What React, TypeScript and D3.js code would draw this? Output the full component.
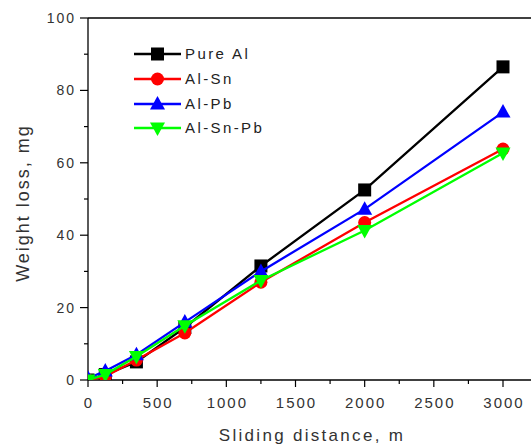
import React from "react";
import * as d3 from "d3";

const distances = [0, 125, 350, 700, 1250, 2000, 3000];
const pureAl = [0, 1.5, 5, 14.5, 31.5, 52.5, 86.5];
const alSn = [0, 1, 5.5, 13, 27, 43.5, 63.8];
const alPb = [0.5, 2.5, 7, 16, 30, 47.2, 74];
const alSnPb = [0, 1.5, 6.5, 15, 27.5, 41.3, 62.7];

const seriesNames = ["Pure Al", "Al-Sn", "Al-Pb", "Al-Sn-Pb"];
const seriesColors = ["#000000", "#ff0000", "#0000ff", "#00ff00"];
const seriesShapes = ["square", "circle", "triangle", "triangleDown"];
const seriesValues = [pureAl, alSn, alPb, alSnPb];

const xTicks = [0, 500, 1000, 1500, 2000, 2500, 3000];
const yTicks = [0, 20, 40, 60, 80, 100];

const W = 531;
const H = 446;
const left = 88;
const top = 18;
const bottom = 380;

function Marker({ shape, x, y, color }: { shape: string; x: number; y: number; color: string }) {
  if (shape === "square") return <rect x={x - 6.5} y={y - 6.5} width={13} height={13} fill={color} />;
  if (shape === "circle") return <circle cx={x} cy={y} r={6.5} fill={color} />;
  if (shape === "triangle")
    return <path d={`M${x},${y - 8}L${x + 7.5},${y + 5.5}L${x - 7.5},${y + 5.5}Z`} fill={color} />;
  return <path d={`M${x},${y + 8}L${x + 7.5},${y - 5.5}L${x - 7.5},${y - 5.5}Z`} fill={color} />;
}

export default function App() {
  const x = d3.scaleLinear().domain([0, 3000]).range([left, 503]);
  const y = d3.scaleLinear().domain([0, 100]).range([bottom, top]);
  const right = x(3250);
  const line = d3
    .line<[number, number]>()
    .x((d) => x(d[0]))
    .y((d) => y(d[1]));
  const font = "'Liberation Sans', Arial, sans-serif";
  const minorX = d3.range(250, 3250, 500);
  const minorY = d3.range(10, 100, 20);
  const legendY = [54, 79, 104, 128];

  return (
    <svg width={W} height={H} style={{ position: "absolute", left: 0, top: 0, background: "#fff" }}>
      <defs>
        <clipPath id="plot">
          <rect x={left} y={top} width={right - left} height={bottom - top} />
        </clipPath>
      </defs>
      {/* frame */}
      <line x1={left} x2={right} y1={top} y2={top} stroke="#000" strokeWidth={1.3} />
      <line x1={left} x2={right} y1={bottom} y2={bottom} stroke="#000" strokeWidth={1.3} />
      <line x1={left} x2={left} y1={top} y2={bottom} stroke="#000" strokeWidth={1.3} />
      {/* y ticks */}
      {yTicks.map((t) => (
        <g key={"y" + t}>
          <line x1={left - 8} x2={left} y1={y(t)} y2={y(t)} stroke="#000" strokeWidth={1.2} />
          <text x={left - 12} y={y(t)} dy="0.36em" textAnchor="end" fontSize={14} fontFamily={font} fill="#333" letterSpacing={2}>
            {t}
          </text>
        </g>
      ))}
      {minorY.map((t) => (
        <line key={"my" + t} x1={left - 4} x2={left} y1={y(t)} y2={y(t)} stroke="#000" strokeWidth={1.2} />
      ))}
      {/* x ticks */}
      {xTicks.map((t) => (
        <g key={"x" + t}>
          <line x1={x(t)} x2={x(t)} y1={bottom} y2={bottom + 7} stroke="#000" strokeWidth={1.2} />
          <text x={x(t) + 1} y={bottom + 28} textAnchor="middle" fontSize={15} fontFamily={font} fill="#333" letterSpacing={2}>
            {t}
          </text>
        </g>
      ))}
      {minorX.map((t) => (
        <line key={"mx" + t} x1={x(t)} x2={x(t)} y1={bottom} y2={bottom + 4} stroke="#000" strokeWidth={1.2} />
      ))}
      {/* axis titles */}
      <text x={312} y={441} textAnchor="middle" fontSize={17} fontFamily={font} fill="#333" letterSpacing={2.3}>
        Sliding distance, m
      </text>
      <text
        transform={`translate(29,203) rotate(-90)`}
        textAnchor="middle"
        fontSize={18}
        fontFamily={font}
        fill="#333"
        letterSpacing={2}
      >
        Weight loss, mg
      </text>
      {/* series */}
      <g clipPath="url(#plot)">
        {seriesValues.map((vals, i) => {
          const pts = distances.map((d, j) => [d, vals[j]] as [number, number]);
          return (
            <g key={seriesNames[i]}>
              <path d={line(pts) || ""} fill="none" stroke={seriesColors[i]} strokeWidth={2.3} />
              {pts.map((p, j) => (
                <Marker key={j} shape={seriesShapes[i]} x={x(p[0])} y={y(p[1])} color={seriesColors[i]} />
              ))}
            </g>
          );
        })}
      </g>
      {/* legend */}
      {seriesNames.map((n, i) => (
        <g key={"lg" + n}>
          <line x1={134} x2={181} y1={legendY[i]} y2={legendY[i]} stroke={seriesColors[i]} strokeWidth={2.3} />
          <Marker shape={seriesShapes[i]} x={157.5} y={legendY[i]} color={seriesColors[i]} />
          <text x={185} y={legendY[i]} dy="0.36em" fontSize={15} fontFamily={font} fill="#222" letterSpacing={2.4}>
            {n}
          </text>
        </g>
      ))}
    </svg>
  );
}
